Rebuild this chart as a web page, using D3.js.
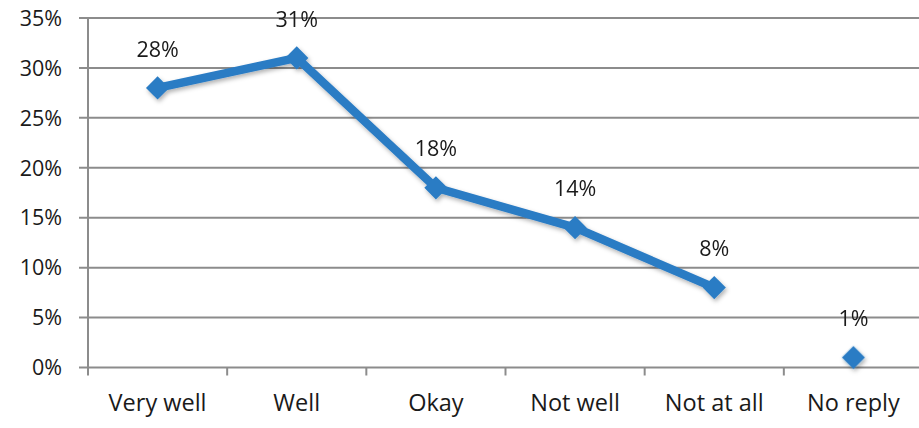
<!DOCTYPE html>
<html><head><meta charset="utf-8">
<script src="https://cdn.jsdelivr.net/npm/d3@7"></script>
<style>
body{margin:0;background:#fff;}
text{font-family:"Open Sans",sans-serif;fill:#1a1a1a;}
</style></head>
<body><svg id="c" width="919" height="428"></svg>
<script>
const categories = ["Very well","Well","Okay","Not well","Not at all","No reply"];
const values = [28,31,18,14,8,1];
const lineSegment = ["Very well","Well","Okay","Not well","Not at all"];
const yTicks = [0,5,10,15,20,25,30,35];

const svg = d3.select("#c");
const x0 = 88, x1 = 923, yTop = 18, yBot = 367.5;
const x = d3.scaleBand().domain(categories).range([x0,x1]).padding(0);
const y = d3.scaleLinear().domain([0,35]).range([yBot,yTop]);
const cx = c => x(c) + x.bandwidth()/2;

const defs = svg.append("defs");
const f = defs.append("filter").attr("id","sh").attr("x","-20%").attr("y","-20%").attr("width","140%").attr("height","140%");
f.append("feDropShadow").attr("dx",1.5).attr("dy",2.5).attr("stdDeviation",2).attr("flood-color","#000").attr("flood-opacity",0.3);

// gridlines
svg.append("g").selectAll("line").data(yTicks).join("line")
  .attr("x1",79).attr("x2",919).attr("y1",d=>y(d)).attr("y2",d=>y(d))
  .attr("stroke","#8c8c8c").attr("stroke-width",2);

// y axis line
svg.append("line").attr("x1",x0).attr("x2",x0).attr("y1",yTop).attr("y2",yBot+8)
  .attr("stroke","#8c8c8c").attr("stroke-width",2);

// x ticks between categories
svg.append("g").selectAll("line").data(categories.slice(1)).join("line")
  .attr("x1",d=>x(d)).attr("x2",d=>x(d)).attr("y1",yBot).attr("y2",yBot+8)
  .attr("stroke","#8c8c8c").attr("stroke-width",2);

// y labels
svg.append("g").selectAll("text").data(yTicks).join("text")
  .attr("x",62).attr("y",d=>y(d)).attr("dy","0.36em").attr("text-anchor","end")
  .attr("font-size",21.5).text(d=>d+"%");

// x labels
svg.append("g").selectAll("text").data(categories).join("text")
  .attr("x",d=>cx(d)).attr("y",403).attr("dy","0.36em").attr("text-anchor","middle")
  .attr("font-size",23.5).text(d=>d);

const data = categories.map((c,i)=>({c,v:values[i]}));
const lineData = data.filter(d=>lineSegment.includes(d.c));

const g = svg.append("g").attr("filter","url(#sh)");
g.append("path").datum(lineData)
  .attr("d",d3.line().x(d=>cx(d.c)).y(d=>y(d.v)))
  .attr("fill","none").attr("stroke","#2b7cc4").attr("stroke-width",8.5).attr("stroke-linejoin","round");
g.selectAll("path.m").data(data).join("path").attr("class","m")
  .attr("d",d3.symbol(d3.symbolSquare,270)())
  .attr("transform",d=>`translate(${cx(d.c)},${y(d.v)}) rotate(45)`)
  .attr("fill","#2b7cc4");

// value labels
svg.append("g").selectAll("text").data(data).join("text")
  .attr("x",d=>cx(d.c)).attr("y",d=>y(d.v)-39).attr("dy","0.36em").attr("text-anchor","middle")
  .attr("font-size",21.5).text(d=>d.v+"%");
</script></body></html>
